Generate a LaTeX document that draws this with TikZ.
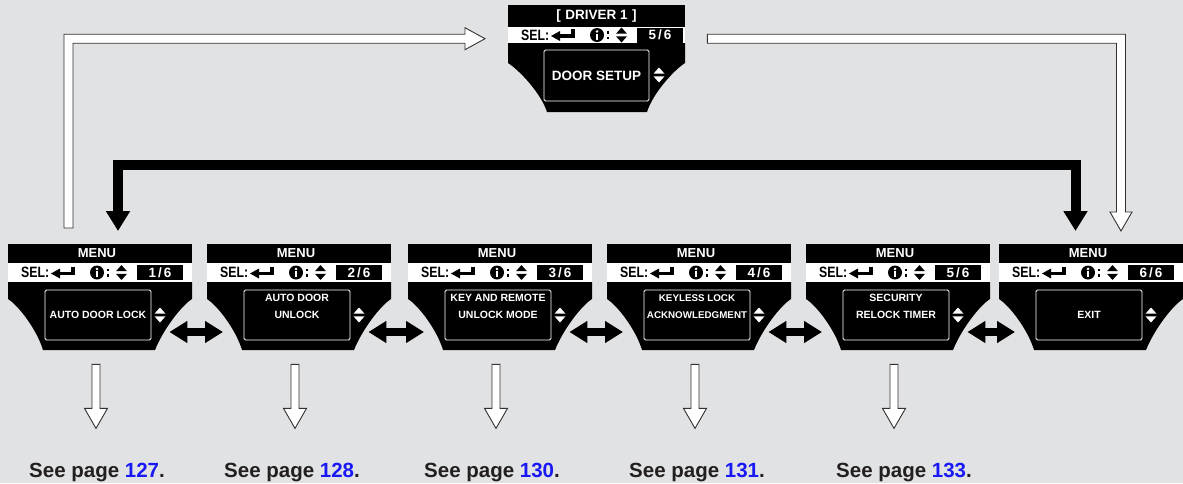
\documentclass[tikz,border=0pt]{standalone}
\usepackage{fontspec}
\setmainfont{Liberation Sans}
\usetikzlibrary{arrows.meta,calc}
\definecolor{bg}{RGB}{225,226,228}
\definecolor{ink}{RGB}{35,31,32}
\definecolor{pgblue}{RGB}{25,25,245}
\definecolor{outl}{RGB}{50,50,50}
\tikzset{
  scrtext/.style={text=white, inner sep=0pt, font=\fontsize{10.5}{12}\selectfont\bfseries},
  hdrtext/.style={text=white, inner sep=0pt, font=\fontsize{13}{14}\selectfont\bfseries},
  numtext/.style={text=white, inner sep=0pt, font=\fontsize{13.5}{14}\selectfont\bfseries},
  seltext/.style={text=black, inner sep=0pt, anchor=west, font=\fontsize{15}{15}\selectfont\bfseries},
  hollow/.style={fill=white, draw=outl, line width=0.9pt, line join=miter},
  bidir/.style={line width=8pt, {Triangle[length=18pt,width=21pt]}-{Triangle[length=18pt,width=21pt]}},
  bigarrow/.style={line width=10pt, line join=miter, {Triangle[length=20pt,width=23pt]}-{Triangle[length=20pt,width=23pt]}},
  pagetext/.style={text=ink, anchor=base, inner sep=0pt, font=\fontsize{20.5}{24}\selectfont\bfseries},
  scrbox/.style={inner sep=0pt, minimum width=184pt, minimum height=106pt, anchor=north west},
}
\newcommand{\updown}[3]{%
  \fill[#3] (#1-5.5,#2-1.3) -- (#1+5.5,#2-1.3) -- (#1,#2-7.5) -- cycle;
  \fill[#3] (#1-5.5,#2+1.3) -- (#1+5.5,#2+1.3) -- (#1,#2+7.5) -- cycle;}
\newcommand{\selrow}[2]{%
  \node[seltext] at (13,#1) {\scalebox{0.82}[1]{SEL:}};
  \fill (43,#1+1) -- (52,#1-4) -- (52,#1+6) -- cycle;
  \fill (51,#1-0.8) rectangle (67,#1+2.8);
  \fill (63.4,#1-6) rectangle (67,#1+2.8);
  \fill (89,#1) circle (7);
  \fill[white] (89,#1-3.6) circle (1.4);
  \fill[white] (87.8,#1-1.3) rectangle (90.4,#1+4.5);
  \fill (98.5,#1-4) rectangle (101.3,#1-1.2);
  \fill (98.5,#1+1.5) rectangle (101.3,#1+4.3);
  \updown{113.5}{#1}{black}
  \fill (129,#1-7.5) rectangle (175,#1+7.5);
  \node[numtext] at (152,#1) {#2};}
\newcommand{\menuscreen}[5]{%
  \node[scrbox] (#1) at (#2,244) {};
  \begin{scope}[shift={(#2,244)}]
    \fill (0,0) rectangle (184,18.5);
    \fill[white] (0,18.5) rectangle (184,38);
    \fill (0,38) -- (0,55) .. controls (11,62) and (29,86) .. (35,106) -- (147,106) .. controls (155,86) and (173,62) .. (184,55) -- (184,38) -- cycle;
    \node[hdrtext] at (89,9.5) {MENU};
    \selrow{28.5}{#3}
    \draw[white, line width=0.8pt, rounded corners=1.5pt] (37,46) rectangle (143,96);
    \updown{152}{71}{white}
    \node[scrtext] at (90,54) {#4};
    \node[scrtext] at (90,71) {#5};
  \end{scope}}
\newcommand{\hollowdown}[2]{%
  \draw[hollow] let \p1=(#1), \p2=(#2) in
    (\x1-4pt,\y1) -- (\x1+4pt,\y1) -- (\x1+4pt,\y2+20pt) -- (\x1+11.5pt,\y2+20pt)
    -- (\x1,\y2) -- (\x1-11.5pt,\y2+20pt) -- (\x1-4pt,\y2+20pt) -- cycle;}
\newcommand{\fr}[2]{#1\kern2pt/\kern2pt#2}
\begin{document}
\begin{tikzpicture}[x=1pt,y=-1pt]
\fill[bg] (0,0) rectangle (1183,483);
\useasboundingbox (0,0) rectangle (1183,483);

% top screen
\node[inner sep=0pt, minimum width=177pt, minimum height=107pt, anchor=north west] (top) at (508,5) {};
\begin{scope}[shift={(508,5)}]
  \fill (0,0) rectangle (177,22);
  \fill[white] (0,22) rectangle (177,38);
  \fill (0,38) -- (0,58) .. controls (11,65) and (33,88) .. (39,107) -- (139,107) .. controls (145,88) and (166,65) .. (177,58) -- (177,38) -- cycle;
  \node[hdrtext, font=\fontsize{13.5}{14}\selectfont\bfseries] at (88.5,11) {[\,\,DRIVER 1\,\,]};
  \selrow{30}{\fr{5}{6}}
  \draw[white, line width=0.8pt, rounded corners=1.5pt] (36,45) rectangle (141,96);
  \updown{151}{70}{white}
  \node[scrtext, font=\fontsize{13.5}{15}\selectfont\bfseries] at (88.5,71) {DOOR SETUP};
\end{scope}

% menu screens
\menuscreen{s1}{8}{\fr{1}{6}}{}{AUTO DOOR LOCK}
\menuscreen{s2}{207}{\fr{2}{6}}{AUTO DOOR}{UNLOCK}
\menuscreen{s3}{408}{\fr{3}{6}}{KEY AND REMOTE}{UNLOCK MODE}
\menuscreen{s4}{607}{\fr{4}{6}}{\fontsize{9.8}{11}\selectfont KEYLESS LOCK}{\fontsize{9.8}{11}\selectfont ACKNOWLEDGMENT}
\menuscreen{s5}{806}{\fr{5}{6}}{SECURITY}{RELOCK TIMER}
\menuscreen{s6}{999}{\fr{6}{6}}{}{EXIT}

% page references
\node[pagetext] (p1) at (97,477) {See page \textcolor{pgblue}{127}.};
\node[pagetext] (p2) at (292,477) {See page \textcolor{pgblue}{128}.};
\node[pagetext] (p3) at (492,477) {See page \textcolor{pgblue}{130}.};
\node[pagetext] (p4) at (697,477) {See page \textcolor{pgblue}{131}.};
\node[pagetext] (p5) at (904,477) {See page \textcolor{pgblue}{133}.};

% down arrows
\foreach \i in {1,...,5} {
  \coordinate (d\i a) at ($(s\i.south west)+(88,14)$);
  \coordinate (d\i b) at ($(d\i a)+(0,64)$);
  \hollowdown{d\i a}{d\i b}
}

% bidirectional arrows
\foreach \i/\j in {1/2,2/3,3/4,4/5,5/6} {
  \draw[bidir] ($(s\i.north east)+(-23,88)$) coordinate (b\i a) -- ($(s\j.north west)+(16,88)$) coordinate (b\i b);
}

% thick black arrow
\coordinate (bkL) at ($(s1.north west)+(110,-13)$);
\coordinate (bkR) at ($(s6.north west)+(76.5,-13)$);
\draw[bigarrow] (bkL) -- ++(0,-66) -| (bkR);

% hollow arrow to top screen
\coordinate (hA1) at ($(s1.north west)+(60.5,-16)$);
\coordinate (hA2) at ($(top.west)+(-23,-20)$);
\draw[hollow] let \p1=(hA1), \p2=(hA2) in
  (\x1-4.5pt,\y1) -- (\x1-4.5pt,\y2+4.5pt) -- (\x2-20pt,\y2+4.5pt) -- (\x2-20pt,\y2+11pt)
  -- (\x2,\y2) -- (\x2-20pt,\y2-11pt) -- (\x2-20pt,\y2-4.5pt) -- (\x1+4.5pt,\y2-4.5pt)
  -- (\x1+4.5pt,\y1) -- cycle;

% hollow arrow from top screen to exit
\coordinate (hB1) at ($(top.east)+(22,-20)$);
\coordinate (hB2) at ($(s6.north west)+(122,-13)$);
\draw[hollow] let \p1=(hB1), \p2=(hB2) in
  (\x1,\y1+4.5pt) -- (\x2+4.5pt,\y1+4.5pt) -- (\x2+4.5pt,\y2+19pt) -- (\x2+11pt,\y2+19pt)
  -- (\x2,\y2) -- (\x2-11pt,\y2+19pt) -- (\x2-4.5pt,\y2+19pt) -- (\x2-4.5pt,\y1-4.5pt)
  -- (\x1,\y1-4.5pt) -- cycle;
\end{tikzpicture}
\end{document}
